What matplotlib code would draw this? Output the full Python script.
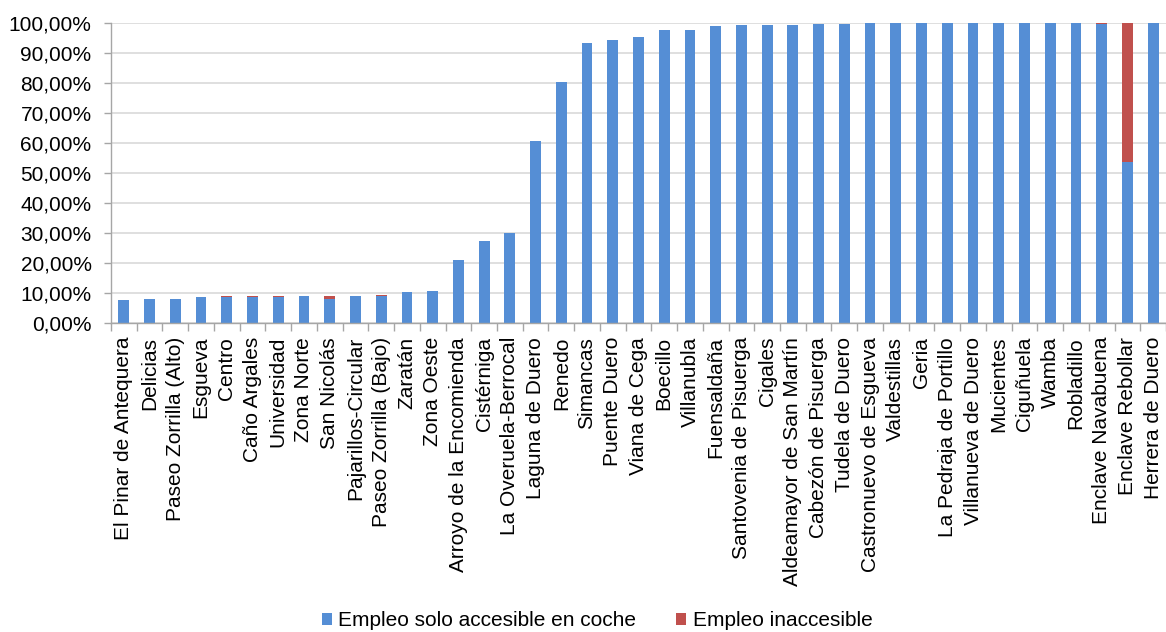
import matplotlib
matplotlib.use("Agg")
import matplotlib.pyplot as plt
import numpy as np

plt.rcParams['font.family'] = ['Liberation Sans', 'DejaVu Sans']

categories = ["El Pinar de Antequera", "Delicias", "Paseo Zorrilla (Alto)", "Esgueva", "Centro",
              "Caño Argales", "Universidad", "Zona Norte", "San Nicolás", "Pajarillos-Circular",
              "Paseo Zorrilla (Bajo)", "Zaratán", "Zona Oeste", "Arroyo de la Encomienda", "Cistérniga",
              "La Overuela-Berrocal", "Laguna de Duero", "Renedo", "Simancas", "Puente Duero",
              "Viana de Cega", "Boecillo", "Villanubla", "Fuensaldaña", "Santovenia de Pisuerga",
              "Cigales", "Aldeamayor de San Martín", "Cabezón de Pisuerga", "Tudela de Duero",
              "Castronuevo de Esgueva", "Valdestillas", "Geria", "La Pedraja de Portillo",
              "Villanueva de Duero", "Mucientes", "Ciguñuela", "Wamba", "Robladillo",
              "Enclave Navabuena", "Enclave Rebollar", "Herrera de Duero"]

coche = [7.6, 7.9, 7.9, 8.7, 8.7, 8.7, 8.7, 9.0, 7.9, 9.0,
         9.0, 10.3, 10.7, 21.0, 27.2, 29.9, 60.7, 80.4, 93.3, 94.3,
         95.3, 97.8, 97.8, 99.1, 99.2, 99.2, 99.3, 99.6, 99.7, 100.0,
         100.0, 100.0, 100.0, 100.0, 100.0, 100.0, 100.0, 100.0, 99.7, 53.6, 100.0]
inaccesible = [0.0, 0.0, 0.0, 0.0, 0.4, 0.4, 0.4, 0.0, 1.1, 0.0,
               0.4, 0.0, 0.0, 0.0, 0.0, 0.0, 0.0, 0.0, 0.0, 0.0,
               0.0, 0.0, 0.0, 0.0, 0.0, 0.0, 0.0, 0.0, 0.0, 0.0,
               0.0, 0.0, 0.0, 0.0, 0.0, 0.0, 0.0, 0.0, 0.3, 46.4, 0.0]

ytick_vals = [0, 10, 20, 30, 40, 50, 60, 70, 80, 90, 100]
ytick_labels = ["0,00%", "10,00%", "20,00%", "30,00%", "40,00%", "50,00%",
                "60,00%", "70,00%", "80,00%", "90,00%", "100,00%"]
series_names = ["Empleo solo accesible en coche", "Empleo inaccesible"]

blue = "#558ED5"
red = "#C0504D"
grid_c = "#D9D9D9"
axis_c = "#A6A6A6"

fig = plt.figure(figsize=(11.66, 6.32), dpi=100)
ax = fig.add_axes([111/1166, 1 - 323/632, 1 - 111/1166, 300/632])

x = np.arange(len(categories))
w = 0.42
b1 = ax.bar(x, coche, width=w, color=blue, label=series_names[0], zorder=3)
b2 = ax.bar(x, inaccesible, width=w, bottom=coche, color=red, label=series_names[1], zorder=3)

ax.set_xlim(-0.5, len(categories) - 0.5)
ax.set_ylim(0, 100)
ax.set_yticks(ytick_vals)
ax.set_yticklabels(ytick_labels, fontsize=15, color="#000000")
ax.set_xticks(x)
ax.set_xticklabels(categories, rotation=90, fontsize=15, va='top', ha='center')
ax.set_xticks(np.arange(-0.5, len(categories), 1.0), minor=True)
ax.tick_params(axis='x', which='major', length=0, pad=10)
ax.tick_params(axis='x', which='minor', length=6, color=axis_c, width=1)
ax.tick_params(axis='y', length=5, color=axis_c, width=1, pad=9)

ax.grid(axis='y', color=grid_c, linewidth=1.2, zorder=0)
for s in ['top', 'right']:
    ax.spines[s].set_visible(False)
for s in ['left', 'bottom']:
    ax.spines[s].set_color(axis_c)
    ax.spines[s].set_linewidth(1)
ax.spines['bottom'].set_zorder(4)

fig.legend(handles=[b1, b2], labels=series_names, loc='center',
           bbox_to_anchor=(597/1166, 1 - 621/632), ncol=2, frameon=False,
           fontsize=15, handlelength=0.5, handleheight=0.5, handletextpad=0.3,
           columnspacing=1.9)

fig.savefig("out.png", dpi=100)
